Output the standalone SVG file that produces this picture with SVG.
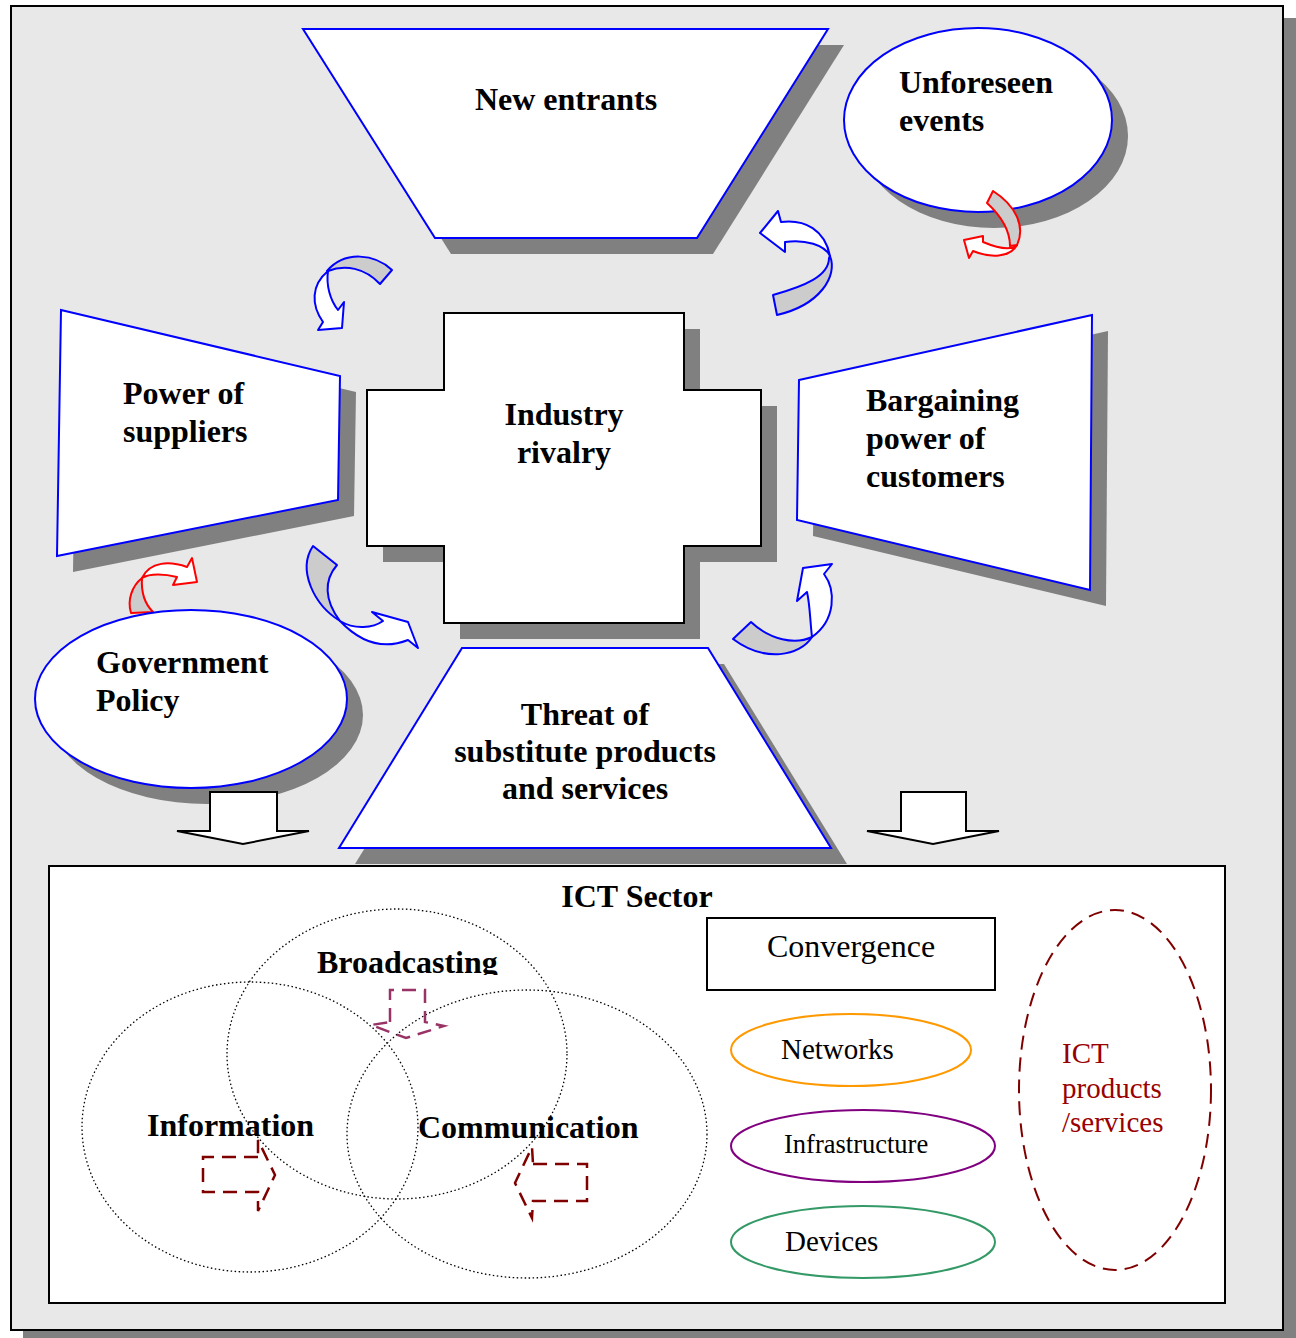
<svg xmlns="http://www.w3.org/2000/svg" width="1296" height="1338" viewBox="0 0 1296 1338">
  <style>
    .shadow { fill: #808080; }
    .blue { fill: #ffffff; stroke: #0000ff; stroke-width: 2; }
    .blk { fill: #ffffff; stroke: #000000; stroke-width: 2; }
    .lbl { font-family: "Liberation Serif", "Times New Roman", serif; font-weight: bold; font-size: 32px; fill: #000000; }
    .reg { font-family: "Liberation Serif", "Times New Roman", serif; font-size: 29px; fill: #000000; }
    .red { fill: #990000; }
    .cw { fill: #ffffff; stroke: #0000ff; stroke-width: 2; stroke-linejoin: round; }
    .cg { fill: #cccccc; stroke: #0000ff; stroke-width: 2; stroke-linejoin: round; }
    .rw { fill: #ffffff; stroke: #ff0000; stroke-width: 2; stroke-linejoin: round; }
    .rg { fill: #cccccc; stroke: #ff0000; stroke-width: 2; stroke-linejoin: round; }
    .venn { fill: none; stroke: #000000; stroke-width: 1.3; stroke-dasharray: 1.5 2.5; }
    .dash { fill: none; stroke: #800000; stroke-width: 2.5; stroke-dasharray: 14 8; }
    .dash-p { fill: none; stroke: #993366; stroke-width: 2.5; stroke-dasharray: 14 8; }
  </style>
  <defs>
    <marker id="redHead" viewBox="0 0 10 10" refX="9" refY="5" markerWidth="5" markerHeight="5" orient="auto">
      <path d="M0,0 L10,5 L0,10 Z" fill="#ff0000"/>
    </marker>
    <clipPath id="clipBroad">
      <rect x="300" y="930" width="220" height="45"/>
    </clipPath>
  </defs>

  <!-- page frame with drop shadow -->
  <rect x="23" y="18" width="1273" height="1320" class="shadow"/>
  <rect x="11" y="6" width="1272" height="1324" fill="#e8e8e8" stroke="#000000" stroke-width="2"/>

  <!-- New entrants -->
  <g id="new-entrants">
    <polygon class="shadow" points="319,45 844,45 713,254 451,254"/>
    <polygon class="blue" points="303,29 828,29 697,238 435,238"/>
    <text class="lbl" x="566" y="110" text-anchor="middle">New entrants</text>
  </g>

  <!-- Unforeseen events -->
  <g id="unforeseen-events">
    <ellipse class="shadow" cx="994" cy="136" rx="134" ry="92"/>
    <ellipse class="blue" cx="978" cy="120" rx="134" ry="92"/>
    <text class="lbl" x="899" y="93">Unforeseen</text>
    <text class="lbl" x="899" y="131">events</text>
  </g>

  <!-- Power of suppliers -->
  <g id="power-of-suppliers">
    <polygon class="shadow" points="77,326 356,392 354,516 73,572"/>
    <polygon class="blue" points="61,310 340,376 338,500 57,556"/>
    <text class="lbl" x="123" y="404">Power of</text>
    <text class="lbl" x="123" y="442">suppliers</text>
  </g>

  <!-- Industry rivalry -->
  <g id="industry-rivalry">
    <polygon class="shadow" points="460,329 700,329 700,406 777,406 777,562 700,562 700,639 460,639 460,562 383,562 383,406 460,406"/>
    <polygon class="blk" points="444,313 684,313 684,390 761,390 761,546 684,546 684,623 444,623 444,546 367,546 367,390 444,390"/>
    <text class="lbl" x="564" y="425" text-anchor="middle">Industry</text>
    <text class="lbl" x="564" y="463" text-anchor="middle">rivalry</text>
  </g>

  <!-- Bargaining power of customers -->
  <g id="bargaining-power">
    <polygon class="shadow" points="815,396 1108,331 1106,606 813,536"/>
    <polygon class="blue" points="799,380 1092,315 1090,590 797,520"/>
    <text class="lbl" x="866" y="411">Bargaining</text>
    <text class="lbl" x="866" y="449">power of</text>
    <text class="lbl" x="866" y="487">customers</text>
  </g>

  <!-- red curved arrow below Power of suppliers (behind the policy oval) -->
  <g id="arrow-policy">
    <path class="rg" d="M131,613 C127,600 132,586 142,578 C141,592 145,604 153,612 Z"/>
    <path class="rw" d="M142,578 C150,561 170,561 187,567 L192,558 L197,582 L173,585 L177,577 C165,574 150,573 142,578 Z"/>
  </g>

  <!-- Government Policy -->
  <g id="government-policy">
    <ellipse class="shadow" cx="207" cy="715" rx="156" ry="89"/>
    <ellipse class="blue" cx="191" cy="699" rx="156" ry="89"/>
    <text class="lbl" x="96" y="673">Government</text>
    <text class="lbl" x="96" y="711">Policy</text>
  </g>

  <!-- Threat of substitutes -->
  <g id="threat-of-substitutes">
    <polygon class="shadow" points="478,664 724,664 847,864 355,864"/>
    <polygon class="blue" points="462,648 708,648 831,848 339,848"/>
    <text class="lbl" x="585" y="725" text-anchor="middle">Threat of</text>
    <text class="lbl" x="585" y="762" text-anchor="middle">substitute products</text>
    <text class="lbl" x="585" y="799" text-anchor="middle">and services</text>
  </g>

  <!-- curved arrows and block arrows -->
  <g id="connectors">
    <!-- near New entrants, left -->
    <path class="cg" d="M327,271 C345,250 375,254 392,270 L380,284 C365,268 345,264 328,271 Z"/>
    <path class="cw" d="M328,271 C311,285 311,305 323,322 L318,330 L342,328 L344,302 L338,310 C330,300 326,285 328,271 Z"/>
    <!-- near New entrants, right -->
    <path class="cg" d="M830,256 C838,276 820,305 777,315 L773,295 C805,286 829,276 829,258 Z"/>
    <path class="cw" d="M830,256 C825,230 805,219 781,222 L778,211 L760,233 L785,252 L785,242 C805,239 825,245 830,256 Z"/>
    <!-- red arrow at Unforeseen events -->
    <path class="rg" d="M987,203 L993,191 C1015,205 1026,226 1017,245 L1010,246 C1010,230 1000,215 987,203 Z"/>
    <path class="rw" d="M1017,245 C1010,252 995,247 983,242 L983,236 L964,240 L969,258 L973,251 C990,258 1010,258 1017,245 Z"/>
    <!-- lower left of rivalry -->
    <path class="cg" d="M313,546 L337,565 C324,580 324,600 340,621 C314,605 297,570 313,546 Z"/>
    <path class="cw" d="M340,621 C355,630 373,628 383,621 L372,612 L408,622 L418,648 L408,640 C383,650 360,642 340,621 Z"/>
    <!-- lower right of rivalry -->
    <path class="cg" d="M733,639 L751,622 C770,640 795,645 812,637 C800,656 765,663 733,639 Z"/>
    <path class="cw" d="M812,637 C810,620 810,605 807,592 L797,601 L803,568 L832,564 L824,574 C836,590 836,620 812,637 Z"/>
    <!-- block arrows into ICT sector -->
    <polygon class="blk" points="210,792 277,792 277,831 309,831 243,844 177,831 210,831"/>
    <polygon class="blk" points="901,792 966,792 966,831 999,831 933,844 867,831 901,831"/>
    <!-- ICT convergence output arrow -->
    <line x1="946" y1="1085" x2="1043" y2="1085" stroke="#ff0000" stroke-width="2" marker-end="url(#redHead)"/>
  </g>

  <!-- ICT Sector -->
  <g id="ict-sector">
    <rect x="49" y="866" width="1176" height="437" fill="#ffffff" stroke="#000000" stroke-width="2"/>
    <text class="lbl" x="637" y="907" text-anchor="middle">ICT Sector</text>
  </g>

  <g id="venn">
    <ellipse class="venn" cx="397" cy="1054" rx="170" ry="145"/>
    <ellipse class="venn" cx="250" cy="1127" rx="168" ry="145"/>
    <ellipse class="venn" cx="527" cy="1134" rx="180" ry="144"/>
    <text class="lbl" x="317" y="973" clip-path="url(#clipBroad)">Broadcasting</text>
    <text class="lbl" x="147" y="1136">Information</text>
    <text class="lbl" x="418" y="1138">Communication</text>
    <path class="dash-p" d="M390,1022 L390,990 L425,990 L425,1022 L444,1026 L406,1038 L371,1025 Z"/>
    <path class="dash" d="M258,1157 L203,1157 L203,1192 L258,1192 L258,1211 L275,1175 L258,1140 Z"/>
    <path class="dash" d="M533,1164 L587,1164 L587,1201 L533,1201 L532,1218 L515,1183 L532,1147 Z"/>
  </g>

  <g id="convergence">
    <rect x="707" y="918" width="288" height="72" fill="#ffffff" stroke="#000000" stroke-width="2"/>
    <text class="reg" x="851" y="957" text-anchor="middle" style="font-size:32px">Convergence</text>
  </g>

  <g id="networks">
    <ellipse cx="851" cy="1050" rx="120" ry="36" fill="#ffffff" stroke="#ff9900" stroke-width="2"/>
    <text class="reg" x="781" y="1059">Networks</text>
  </g>

  <g id="infrastructure">
    <ellipse cx="863" cy="1146" rx="132" ry="36" fill="#ffffff" stroke="#800080" stroke-width="2"/>
    <text class="reg" x="784" y="1153" style="font-size:26.5px">Infrastructure</text>
  </g>

  <g id="devices">
    <ellipse cx="863" cy="1242" rx="132" ry="36" fill="#ffffff" stroke="#339966" stroke-width="2"/>
    <text class="reg" x="785" y="1251">Devices</text>
  </g>

  <g id="ict-products">
    <ellipse cx="1115" cy="1090" rx="96" ry="180" fill="none" stroke="#800000" stroke-width="2" stroke-dasharray="14 8"/>
    <text class="reg red" x="1062" y="1063">ICT</text>
    <text class="reg red" x="1062" y="1098">products</text>
    <text class="reg red" x="1062" y="1132">/services</text>
  </g>
</svg>
